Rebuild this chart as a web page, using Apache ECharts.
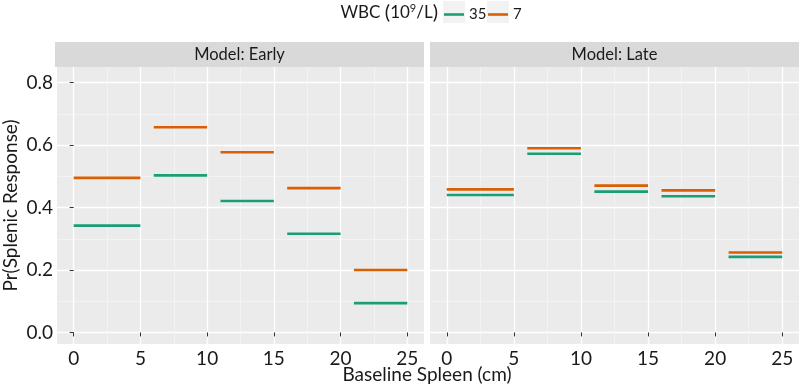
<!DOCTYPE html>
<html>
<head>
<meta charset="utf-8">
<script src="https://cdn.jsdelivr.net/npm/echarts@6/dist/echarts.min.js"></script>
<style>
  html, body { margin: 0; padding: 0; background: #fff; }
  #chart { width: 800px; height: 387px; }
</style>
</head>
<body>
<div id="chart"></div>
<script>
// spleen bins (cm)
const binStart = [0, 6, 11, 16, 21];
const binEnd = [5, 10, 15, 20, 25];

// predicted Pr(splenic response) per bin
const early35 = [0.342, 0.503, 0.421, 0.316, 0.094];
const early7 = [0.495, 0.657, 0.577, 0.462, 0.200];
const late35 = [0.440, 0.572, 0.451, 0.436, 0.242];
const late7 = [0.458, 0.590, 0.470, 0.455, 0.256];

const panels = ["Model: Early", "Model: Late"];
const groups = ["35", "7"];
const yTicks = [0, 0.2, 0.4, 0.6, 0.8];
const yMinor = [0.1, 0.3, 0.5, 0.7];
const xTicks = [0, 5, 10, 15, 20, 25];
const xMinor = [2.5, 7.5, 12.5, 17.5, 22.5];

const colors = { "35": "#1b9e77", "7": "#d95f02" };
const font = "Lato";
const textColor = "#1a1a1a";

const panelData = [
  { "35": early35, "7": early7 },
  { "35": late35, "7": late7 },
];

const gridLeft = [55, 430];
const gridW = 369;
const gridTop = 67;
const gridH = 277;

const grids = [];
const xAxes = [];
const yAxes = [];
const series = [];
const graphics = [];

panels.forEach((p, i) => {
  grids.push({
    left: gridLeft[i], top: gridTop, width: gridW, height: gridH,
    show: true, backgroundColor: "#ebebeb", borderWidth: 0,
  });
  // major x axis
  xAxes.push({
    type: "value", gridIndex: i, min: -1.25, max: 26.25,
    axisLine: { show: false },
    axisTick: { show: true, length: 4, lineStyle: { color: "#333" }, customValues: xTicks },
    axisLabel: { customValues: xTicks, color: textColor, fontSize: 19, fontFamily: font, margin: 5 },
    splitLine: { show: true, lineStyle: { color: "#ffffff", width: 1.3 } },
  });
  // minor x grid
  xAxes.push({
    type: "value", gridIndex: i, min: -1.25, max: 26.25,
    axisLine: { show: false },
    axisTick: { show: false, customValues: xMinor },
    axisLabel: { show: false, customValues: xMinor },
    splitLine: { show: true, lineStyle: { color: "#f6f6f6", width: 0.7 } },
  });
  yAxes.push({
    type: "value", gridIndex: i, min: -0.037, max: 0.85,
    axisLine: { show: false },
    axisTick: { show: i === 0, length: 4, lineStyle: { color: "#333" }, customValues: yTicks },
    axisLabel: {
      show: i === 0, customValues: yTicks, color: textColor, fontSize: 19, fontFamily: font, margin: 4,
      formatter: (v) => v.toFixed(1),
    },
    splitLine: { show: true, lineStyle: { color: "#ffffff", width: 1.3 } },
    name: i === 0 ? "Pr(Splenic Response)" : "",
    nameLocation: "middle", nameGap: 37, nameRotate: 90,
    nameTextStyle: { color: textColor, fontSize: 19, fontFamily: font },
  });
  yAxes.push({
    type: "value", gridIndex: i, min: -0.037, max: 0.85, position: "left",
    axisLine: { show: false },
    axisTick: { show: false, customValues: yMinor },
    axisLabel: { show: false, customValues: yMinor },
    splitLine: { show: true, lineStyle: { color: "#f6f6f6", width: 0.7 } },
  });

  // facet strip
  graphics.push({
    type: "rect", left: gridLeft[i], top: 42, z: 0,
    shape: { width: gridW, height: 25 }, style: { fill: "#d9d9d9" },
  });
  graphics.push({
    type: "text", x: gridLeft[i] + gridW / 2, y: 54.5, z: 1,
    style: { text: p, fill: textColor, font: "16.5px " + font, align: "center", verticalAlign: "middle" },
  });

  groups.forEach((g) => {
    panelData[i][g].forEach((v, k) => {
      series.push({
        name: g, type: "line",
        xAxisIndex: i * 2, yAxisIndex: i * 2,
        symbol: "none", silent: true,
        lineStyle: { color: colors[g], width: 2.6 },
        itemStyle: { color: colors[g] },
        data: [[binStart[k], v], [binEnd[k], v]],
      });
    });
  });
});

// legend key backgrounds and title
const keyLeft = [443, 487];
keyLeft.forEach((x) => {
  graphics.push({ type: "rect", left: x, top: 1, z: 0, shape: { width: 22, height: 22 }, style: { fill: "#f2f2f2" } });
});
graphics.push({
  type: "text", x: 438, y: 13, z: 1,
  style: {
    text: "{a|WBC }{p|(}{a|10}{s|9}{a|/L}{p|)}", align: "right", verticalAlign: "middle",
    rich: {
      a: { fontSize: 17, fontFamily: font, fill: textColor },
      p: { fontSize: 20, fontFamily: font, fill: textColor },
      s: { fontSize: 11, fontFamily: font, fill: textColor, verticalAlign: "top", padding: [0, 0, 8, 0] },
    },
  },
});
// x axis title
graphics.push({
  type: "text", x: 427, y: 375, z: 1,
  style: { text: "Baseline Spleen (cm)", fill: textColor, font: "19px " + font, align: "center", verticalAlign: "middle" },
});

// one legend per key so each sits on its grey box
const legends = groups.map((g, i) => ({
  data: [g],
  left: keyLeft[i] + 1, top: 2, padding: [5, 0, 5, 0],
  itemWidth: 20, itemHeight: 20,
  icon: "path://M0,9 L20,9 L20,11.6 L0,11.6 Z",
  textStyle: { color: textColor, fontSize: 15, fontFamily: font },
}));

const option = {
  backgroundColor: "#ffffff",
  animation: false,
  legend: legends,
  grid: grids,
  xAxis: xAxes,
  yAxis: yAxes,
  series: series,
  graphic: graphics,
};

const chart = echarts.init(document.getElementById("chart"));
chart.setOption(option);
</script>
</body>
</html>
